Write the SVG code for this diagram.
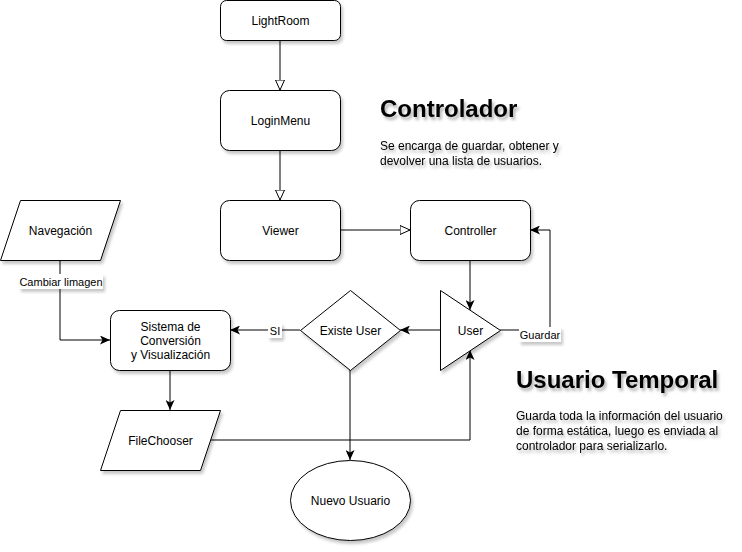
<svg xmlns="http://www.w3.org/2000/svg" width="742" height="552" viewBox="0 0 742 552">
<defs>
<filter id="sh" x="-20%" y="-20%" width="150%" height="150%">
<feDropShadow dx="2" dy="3" stdDeviation="1.5" flood-color="#000" flood-opacity="0.22"/>
</filter>
<filter id="tsh" x="-10%" y="-30%" width="130%" height="180%">
<feDropShadow dx="2" dy="3" stdDeviation="1.5" flood-color="#000" flood-opacity="0.3"/>
</filter>
<marker id="open" markerUnits="userSpaceOnUse" markerWidth="12" markerHeight="10" refX="10.5" refY="5" orient="auto">
<path d="M0.5,0.5 L10.5,5 L0.5,9.5 Z" fill="#fff" stroke="#000" stroke-width="1"/>
</marker>
<marker id="arr" markerUnits="userSpaceOnUse" markerWidth="11" markerHeight="9" refX="10" refY="4.5" orient="auto">
<path d="M0,0 L10,4.5 L0,9 L2.5,4.5 Z" fill="#000"/>
</marker>
</defs>
<style>
.n{fill:#fff;stroke:#000;stroke-width:1;filter:url(#sh)}
.t{font-family:"Liberation Sans",Arial,sans-serif;font-size:12px;fill:#000;text-anchor:middle}
.l{font-family:"Liberation Sans",Arial,sans-serif;font-size:11px;fill:#000;text-anchor:middle}
.e{fill:none;stroke:#000;stroke-width:1}
.lb{fill:#fff;filter:url(#sh)}
.h{font-family:"Liberation Sans",Arial,sans-serif;font-size:24px;font-weight:bold;fill:#000;filter:url(#tsh)}
.b{font-family:"Liberation Sans",Arial,sans-serif;font-size:12px;fill:#000;filter:url(#tsh)}
</style>
<rect width="742" height="552" fill="#fff"/>
<g id="connectors">
<path class="e" d="M280,40 L280,90" marker-end="url(#open)"/>
<path class="e" d="M280,150 L280,200" marker-end="url(#open)"/>
<path class="e" d="M340,230 L410,230" marker-end="url(#open)"/>
<path class="e" d="M470,260 L470,310" marker-end="url(#arr)"/>
<path class="e" d="M210,440 L470,440 L470,350" marker-end="url(#arr)"/>
<path class="e" d="M500,330 L550,330 L550,230 L530,230" marker-end="url(#arr)"/>
<path class="e" d="M440,330 L400,330" marker-end="url(#arr)"/>
<path class="e" d="M300,330 L230,330" marker-end="url(#arr)"/>
<path class="e" d="M60,260 L60,340 L110,340" marker-end="url(#arr)"/>
<path class="e" d="M170,370 L170,410" marker-end="url(#arr)"/>
<path class="e" d="M350,370 L350,460" marker-end="url(#arr)"/>
<rect class="lb" x="19" y="274" width="84" height="15"/>
<text class="l" x="61" y="286">Cambiar limagen</text>
<rect class="lb" x="268" y="323" width="14" height="15"/>
<text class="l" x="275" y="335">SI</text>
<rect class="lb" x="519" y="327" width="42" height="15"/>
<text class="l" x="540" y="339">Guardar</text>
</g>
<g id="lightroom">
<rect class="n" x="220.5" y="0.5" width="120" height="40" rx="6"/>
<text class="t" x="280.5" y="24.5">LightRoom</text>
</g>
<g id="loginmenu">
<rect class="n" x="220.5" y="90.5" width="120" height="60" rx="9"/>
<text class="t" x="280.5" y="124.5">LoginMenu</text>
</g>
<g id="viewer">
<rect class="n" x="220.5" y="200.5" width="120" height="60" rx="9"/>
<text class="t" x="280.5" y="234.5">Viewer</text>
</g>
<g id="controller">
<rect class="n" x="410.5" y="200.5" width="120" height="60" rx="9"/>
<text class="t" x="470.5" y="234.5">Controller</text>
</g>
<g id="user">
<path class="n" d="M440.5,290.5 L500.5,330.5 L440.5,370.5 Z"/>
<text class="t" x="470.5" y="334.5">User</text>
</g>
<g id="existe-user">
<path class="n" d="M350.5,290.5 L400.5,330.5 L350.5,370.5 L300.5,330.5 Z"/>
<text class="t" x="350.5" y="334.5">Existe User</text>
</g>
<g id="sistema">
<rect class="n" x="110.5" y="310.5" width="120" height="60" rx="9"/>
<text class="t" x="170.5" y="330.5">Sistema de</text>
<text class="t" x="170.5" y="344.5">Conversión</text>
<text class="t" x="170.5" y="358.5">y Visualización</text>
</g>
<g id="navegacion">
<path class="n" d="M20.5,200.5 L120.5,200.5 L100.5,260.5 L0.5,260.5 Z"/>
<text class="t" x="60.5" y="234.5">Navegación</text>
</g>
<g id="filechooser">
<path class="n" d="M120.5,410.5 L220.5,410.5 L200.5,470.5 L100.5,470.5 Z"/>
<text class="t" x="160.5" y="444.5">FileChooser</text>
</g>
<g id="nuevo-usuario">
<ellipse class="n" cx="350.5" cy="500.5" rx="60" ry="40"/>
<text class="t" x="350.5" y="504.5">Nuevo Usuario</text>
</g>
<g id="controlador-note">
<text class="h" x="380" y="117">Controlador</text>
<text class="b" x="380" y="150">Se encarga de guardar, obtener y</text>
<text class="b" x="380" y="165">devolver una lista de usuarios.</text>
</g>
<g id="usuario-temporal-note">
<text class="h" x="516" y="388">Usuario Temporal</text>
<text class="b" x="516" y="420">Guarda toda la información del usuario</text>
<text class="b" x="516" y="435">de forma estática, luego es enviada al</text>
<text class="b" x="516" y="450">controlador para serializarlo.</text>
</g>
</svg>
